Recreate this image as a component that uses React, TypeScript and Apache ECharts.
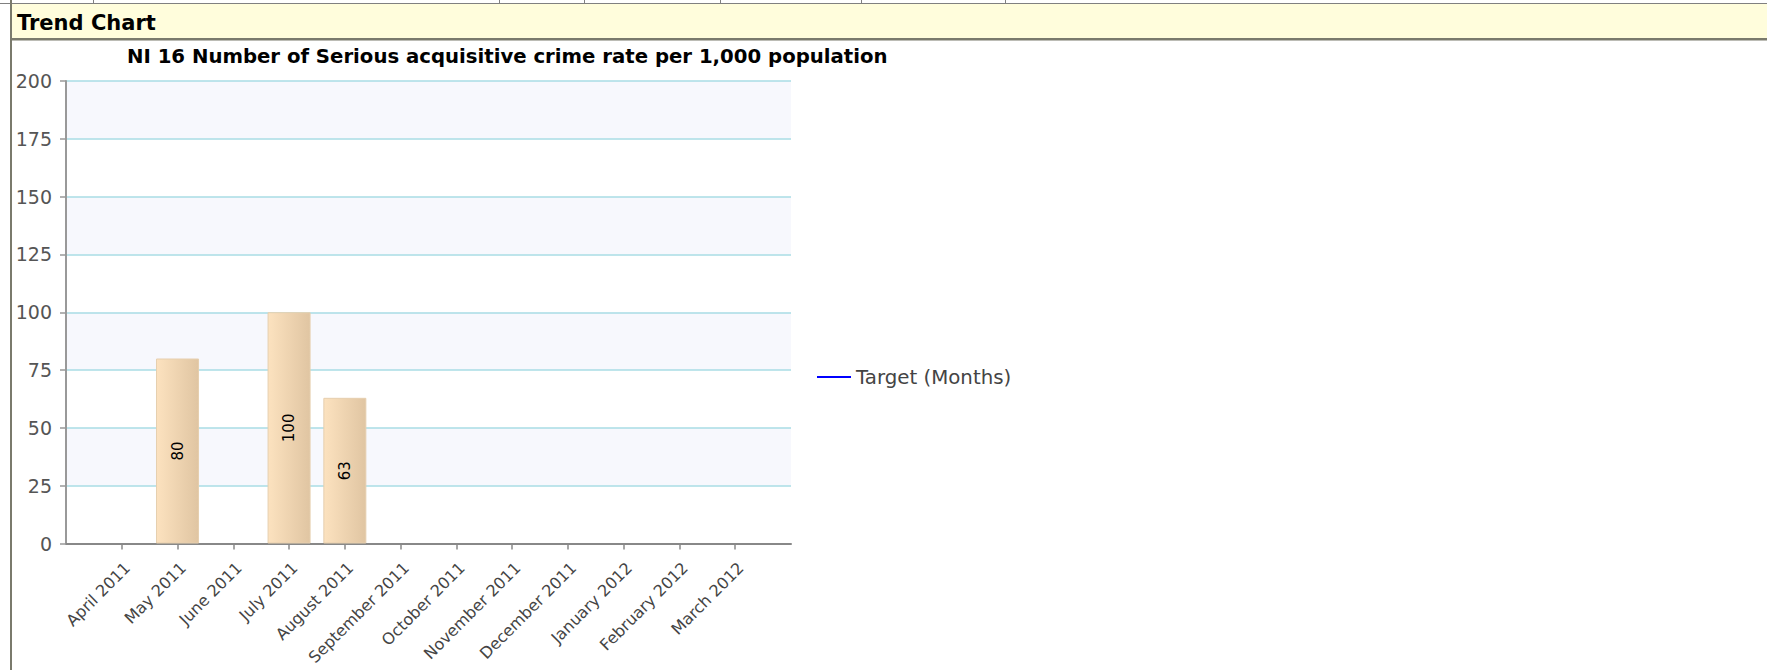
import React, { useEffect, useRef } from "react";
import * as echarts from "echarts";

const headerTitle = "Trend Chart";
const chartTitle = "NI 16 Number of Serious acquisitive crime rate per 1,000 population";
const targetName = "Target (Months)";
const actualName = "Actual";

const months = [
  "April 2011",
  "May 2011",
  "June 2011",
  "July 2011",
  "August 2011",
  "September 2011",
  "October 2011",
  "November 2011",
  "December 2011",
  "January 2012",
  "February 2012",
  "March 2012",
];
const actualValues: (number | null)[] = [null, 80, null, 100, 63, null, null, null, null, null, null, null];
const targetValues: (number | null)[] = [null, null, null, null, null, null, null, null, null, null, null, null];
const yMin = 0;
const yMax = 200;
const yInterval = 25;

const tableStubs = [93, 499, 584, 720, 861, 1005];

export default function App() {
  const ref = useRef<HTMLDivElement>(null);
  useEffect(() => {
    document.body.style.margin = "0";
    if (!ref.current) return;
    const chart = echarts.init(ref.current, undefined, { renderer: "svg" });
    const cats = ["", ...months, ""];
    const pad = (arr: (number | null)[]) => [null, ...arr, null];
    const font = "DejaVu Sans";
    const graphics: any[] = [
      { type: "rect", shape: { x: 11, y: 3, width: 1767, height: 36 }, style: { fill: "#FFFDDC" }, silent: true },
      { type: "rect", shape: { x: 0, y: 3, width: 1767, height: 1 }, style: { fill: "#808080" }, silent: true },
      { type: "rect", shape: { x: 11, y: 38, width: 1767, height: 2.5 }, style: { fill: "#7A7A6C" }, silent: true },
      { type: "rect", shape: { x: 10, y: 0, width: 2, height: 670 }, style: { fill: "#7A7A6C" }, silent: true },
      ...tableStubs.map((x) => ({
        type: "rect",
        shape: { x, y: 0, width: 1, height: 4 },
        style: { fill: "#808080" },
        silent: true,
      })),
      {
        type: "text",
        x: 17,
        y: 22.5,
        style: {
          text: headerTitle,
          font: `bold 21px "${font}"`,
          fill: "#000000",
          textVerticalAlign: "middle",
          verticalAlign: "middle",
        },
        silent: true,
      },
    ];
    chart.setOption({
      animation: false,
      backgroundColor: "#ffffff",
      title: {
        text: chartTitle,
        left: 127,
        top: 46,
        padding: 0,
        textStyle: { fontFamily: font, fontWeight: "bold", fontSize: 19.7, color: "#000000" },
      },
      graphic: graphics,
      legend: {
        orient: "vertical",
        left: 817,
        top: 367,
        padding: 0,
        itemWidth: 34,
        itemHeight: 14,
        itemGap: 6,
        symbolKeepAspect: true,
        data: [{ name: targetName, icon: "path://M0,0L34,0L34,2L0,2Z" }],
        textStyle: { fontFamily: font, fontSize: 19.8, color: "#444444" },
      },
      grid: {
        left: 66,
        right: 976,
        top: 81,
        bottom: 126.5,
        containLabel: false,
        outerBoundsMode: "none",
      },
      xAxis: {
        type: "category",
        data: cats,
        boundaryGap: false,
        axisLine: { lineStyle: { color: "#888888", width: 2 } },
        axisTick: {
          length: 6,
          interval: (_i: number, v: string) => v !== "",
          lineStyle: { color: "#888888", width: 1.5 },
        },
        axisLabel: {
          interval: 0,
          rotate: 45,
          margin: 16,
          verticalAlign: "top",
          hideOverlap: false,
          fontFamily: font,
          fontSize: 16,
          color: "#444444",
        },
        splitLine: { show: false },
      },
      yAxis: {
        type: "value",
        min: yMin,
        max: yMax,
        interval: yInterval,
        axisLine: { show: true, lineStyle: { color: "#999999", width: 2 } },
        axisTick: { show: true, length: 6, lineStyle: { color: "#999999", width: 1.5 } },
        axisLabel: { margin: 14, fontFamily: font, fontSize: 19, color: "#555555" },
        splitLine: { show: true, lineStyle: { color: "#A9DCE5", width: 1.5 } },
        splitArea: { show: true, areaStyle: { color: ["#FFFFFF", "#F7F8FD"] } },
      },
      series: [
        {
          name: actualName,
          type: "bar",
          data: pad(actualValues),
          barWidth: 43,
          itemStyle: {
            color: new echarts.graphic.LinearGradient(0, 0, 1, 0, [
              { offset: 0, color: "#FCE2BF" },
              { offset: 1, color: "#E0C5A2" },
            ]),
            borderColor: "#E6CFAE",
            borderWidth: 1,
          },
          label: {
            show: true,
            position: "inside",
            rotate: 90,
            fontFamily: font,
            fontSize: 15,
            color: "#000000",
          },
        },
        {
          name: targetName,
          type: "line",
          data: pad(targetValues),
          symbol: "none",
          color: "#0000FF",
          lineStyle: { color: "#0000FF", width: 2 },
        },
      ],
    });
    return () => chart.dispose();
  }, []);
  return (
    <div
      ref={ref}
      style={{ position: "absolute", left: 0, top: 0, width: 1767, height: 670 }}
    />
  );
}
